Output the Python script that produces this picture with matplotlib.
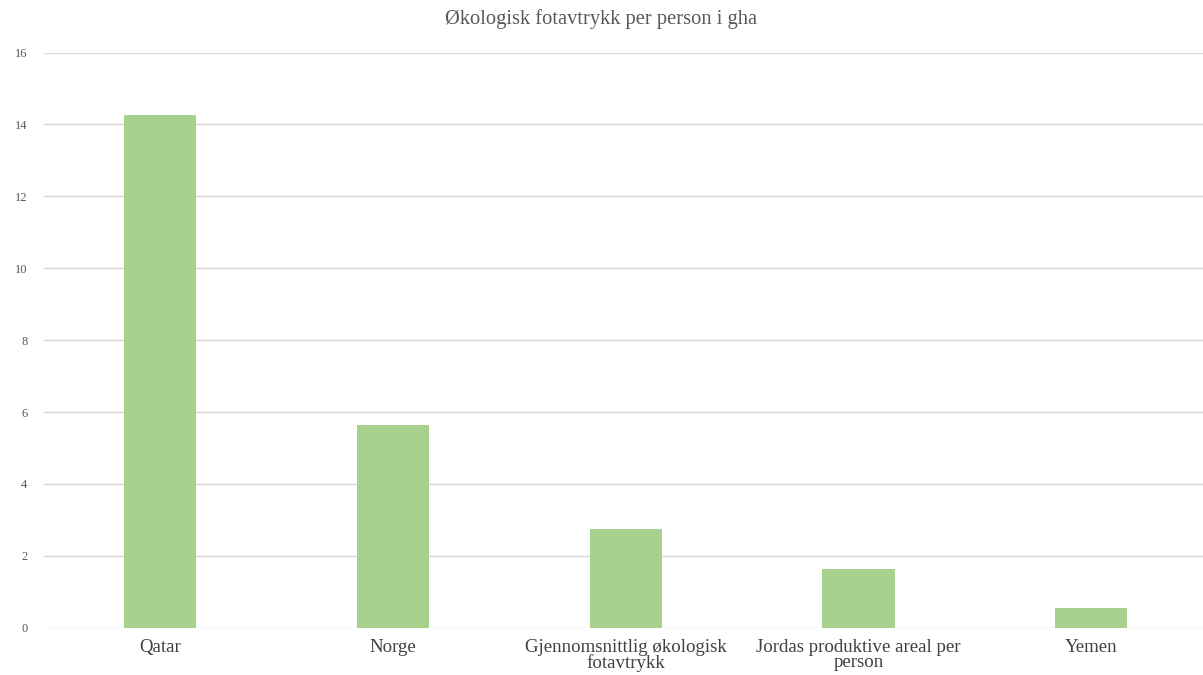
import matplotlib
matplotlib.use('Agg')
import matplotlib.pyplot as plt

categories = ['Qatar', 'Norge', 'Gjennomsnittlig økologisk\nfotavtrykk',
              'Jordas produktive areal per\nperson', 'Yemen']
values = [14.25, 5.63, 2.75, 1.64, 0.54]
y_ticks = [0, 2, 4, 6, 8, 10, 12, 14, 16]
title = 'Økologisk fotavtrykk per person i gha'

plt.rcParams['font.family'] = ['Liberation Serif', 'DejaVu Serif']

fig = plt.figure(figsize=(12.03, 6.75), dpi=100)
ax = fig.add_axes([44 / 1203, 0.0701, 1 - 44 / 1203, 0.852])

x = list(range(len(categories)))
ax.bar(x, values, width=0.31, color='#a9d18e', zorder=3)

ax.set_xlim(-0.5, 4.48)
ax.set_ylim(0, 16)
ax.set_yticks(y_ticks)
ax.set_xticks(x)
ax.set_xticklabels(categories, fontsize=13.6, color='#404040', linespacing=0.88)
ax.tick_params(axis='y', length=0, pad=12, labelsize=9, labelcolor='#595959')
ax.tick_params(axis='x', length=0, pad=8)
ax.grid(axis='y', color='#d9d9d9', lw=1, zorder=0)
for s in ax.spines.values():
    s.set_visible(False)

fig.text(0.5, 1 - 19 / 675, title, ha='center', va='center', fontsize=14.8, color='#595959')

fig.savefig('out.png', dpi=100)
